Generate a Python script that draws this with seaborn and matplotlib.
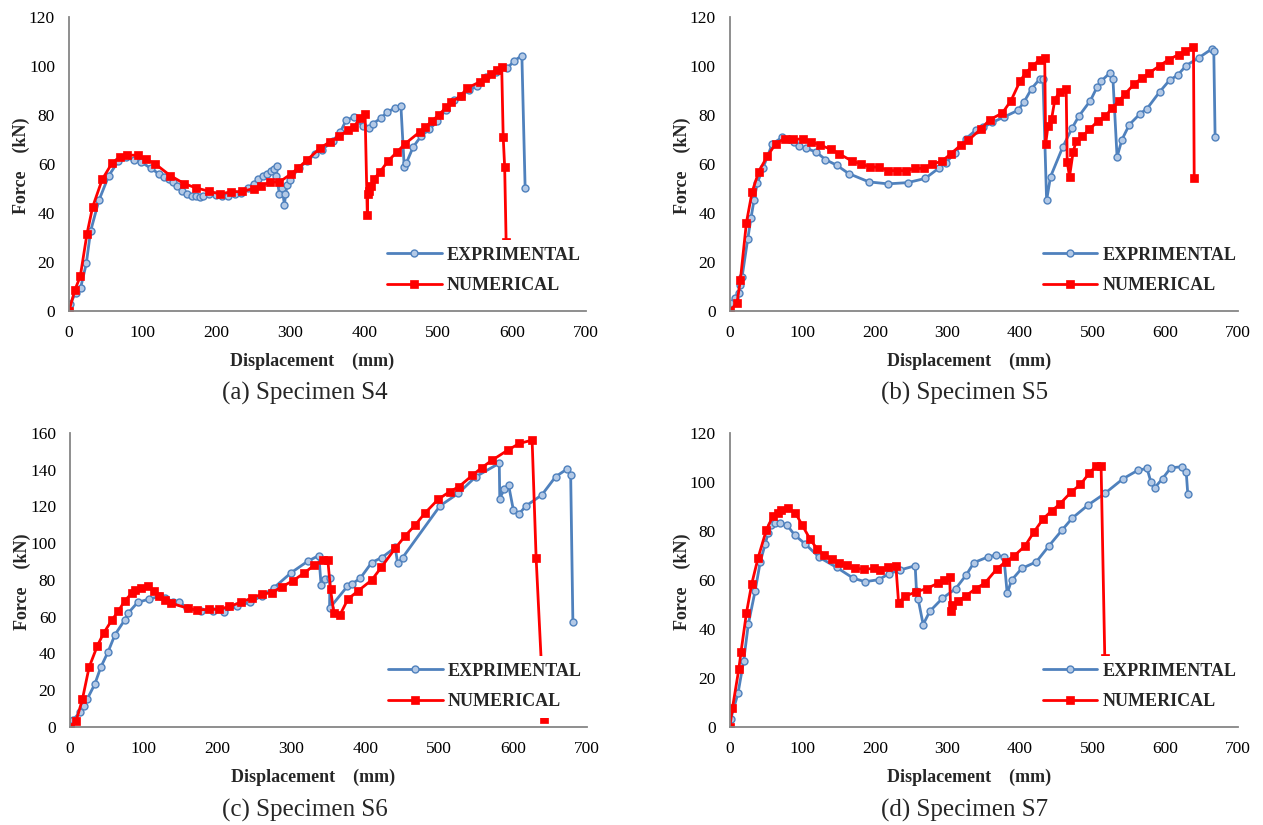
import numpy as np
import pandas as pd
import matplotlib.pyplot as plt
import seaborn as sns

# --- Specimen S4 ---
s4_exp_x = [0, 1.4, 9, 15.8, 23.5, 29.3, 40.6, 54, 66.8, 76.7, 88, 97, 110.5, 121.8, 128.6, 135.3, 140.7,
            146.6, 153.4, 160, 167, 172.3, 176.8, 181.3, 189.4, 198.5, 207.5, 215.6, 224.6, 232.3, 242.7,
            250.3, 256.2, 262.5, 267.5, 273, 277.4, 282, 281, 285, 288.7, 291.8, 293.2, 295.4, 299, 311.2,
            322.5, 333, 343, 357, 367.6, 375.3, 386.3, 397.6, 405.7, 412, 422.5, 431, 441.4, 449.5, 454,
            457, 466, 476.6, 487.8, 499, 510.4, 521.7, 530.7, 542, 553, 564.5, 578, 593.8, 603.3, 613.3, 617.7]
s4_exp_y = [0, 2.7, 7.5, 9.5, 19.4, 32.6, 45.2, 55.3, 61.1, 62.9, 61.5, 61, 58.3, 56, 54.8, 53.9, 52.6,
            51.2, 48.9, 47.8, 47.1, 46.9, 46.5, 47.1, 47.6, 47.3, 46.9, 46.9, 47.6, 48.2, 50.3,
            52, 53.7, 55, 56.1, 57, 58, 59.1, 55, 47.8, 50.3, 43.2, 47.6, 51.4, 53.3, 58.4,
            61.1, 64.1, 65.9, 69.3, 73.1, 77.9, 79.2, 75.4, 74.7, 76.5, 78.8, 81.1, 82.9, 83.6, 58.8,
            60.5, 66.9, 71.3, 74.1, 77.5, 82.2, 86.3, 87.6, 90.4, 91.7, 95.5, 97.4, 99.2, 102.2, 104.2, 50.3]
s4_num_x = [0, 8.1, 15.3, 24.4, 32, 45, 58.6, 69, 79, 93.4, 103.7, 117, 137, 156, 171.4, 189.4, 204, 219,
            234.5, 250, 260.7, 272, 284.6, 301, 310, 323, 340.6, 353, 366, 378, 386, 394, 401, 404, 404.4,
            405.7, 409, 413.4, 421, 432, 444.5, 455.3, 475, 482.4, 491.5, 501.4, 511, 518, 530.7, 539,
            556.4, 563.6, 571.3, 579, 586, 588, 590, 592]
s4_num_y = [0, 8.7, 14.1, 31.5, 42.4, 53.7, 60.5, 62.8, 63.6, 63.6, 62.1, 60, 55.3, 52, 50.3, 48.9, 47.8, 48.6,
            48.8, 50, 51, 52.7, 52.6, 56, 58.3, 61.8, 66.6, 69, 71.3, 73.9, 75.1, 78.8, 80.5, 39.1, 47.6,
            48.9, 51, 54, 56.7, 61.2, 65, 68.3, 73.1, 75, 77.5, 80.2, 83.2, 85.2, 87.9, 91,
            93.5, 95.1, 96.8, 98.2, 99.4, 71, 58.7, 28]

# --- Specimen S5 ---
s5_exp_x = [0, 2.7, 7.3, 12.4, 14.2, 17, 24.7, 29.3, 33.4, 38, 45.8, 58.6, 72.3, 81.5, 87.9, 96, 105.3, 119,
            131.9, 147.4, 163.9, 191.8, 218, 245, 269.2, 288.5, 297.6, 310.4, 325, 339.7, 349.4, 362, 378,
            397, 405.5, 416, 427.5, 431.6, 436.6, 442, 459, 471.8, 481, 497, 506, 511.7, 523.6, 528, 533.7,
            540.5, 550.7, 565.8, 575, 592.3, 606, 617, 629, 646, 664, 667, 668.8]
s5_exp_y = [0, 3.3, 5.3, 7.5, 10.6, 14, 29.2, 38, 45.2, 52.3, 58.4, 68.2, 70.9, 70.2, 68.9, 67.3, 66.4, 64.9,
            61.8, 59.5, 56.1, 52.7, 51.9, 52.4, 54.1, 58.4, 60.5, 64.5, 70.2, 74, 75, 77, 79.2,
            81.9, 85.3, 90.8, 94.8, 94.8, 45.2, 54.8, 67, 74.7, 79.5, 85.9, 91.3, 93.8, 97.1, 94.8, 62.9,
            70, 76.1, 80.6, 82.6, 89.4, 94.2, 96.2, 100.2, 103.3, 106.9, 106, 71]
s5_num_x = [0, 10, 14.7, 22.9, 30.7, 39.8, 51.7, 63.2, 75.5, 87, 100.7, 112.6, 124.5, 139.6, 151, 168, 180.4,
            193.2, 206, 218, 230.3, 242.7, 255, 267, 279.3, 292, 304.5, 319, 328.8, 346, 358.4, 375.7,
            387.6, 400, 407.8, 417, 427, 434, 435.3, 438.5, 443.5, 448, 454.5, 463.6, 465, 468.2, 473.2,
            477.4, 485.6, 495.7, 507, 517.7, 526.8, 536, 545, 557.5, 568, 578, 593, 604.7, 618.4, 627.6,
            639, 640]
s5_num_y = [0, 3.4, 12.8, 36, 48.5, 56.8, 63.2, 68.2, 70.4, 70.1, 70.2, 69, 67.7, 66, 64.1, 61.3, 60,
            58.8, 58.7, 57.3, 57.3, 57.3, 58.2, 58.2, 60, 61.1, 64.1, 67.9, 69.7, 74.3, 78.1, 80.8,
            85.9, 93.8, 97.2, 99.9, 102.6, 103.3, 68.2, 75.4, 78.4, 86.3, 89.4, 90.8, 60.9, 54.8, 65,
            69.3, 71.3, 74.1, 77.5, 79.5, 82.9, 85.6, 88.7, 92.7, 95.1, 97.2, 100.2, 102.6, 104.6, 106.3,
            107.7, 54.3]

# --- Specimen S6 ---
s6_exp_x = [0, 3.6, 13.6, 19.5, 23.6, 33.6, 41.7, 51.7, 60.8, 74.4, 78.9, 91.6, 107, 122.4, 129.3, 139.7,
            147.4, 158.7, 176.9, 194, 208.6, 226.8, 244, 260, 276.6, 299.3, 322, 337, 340, 345.6, 352,
            351.5, 375.5, 381.9, 393.2, 408.6, 422.3, 440.5, 443.7, 450.5, 501, 526, 549.5, 581.3, 582,
            588, 594, 600.4, 607.6, 617.6, 639, 657.6, 673.5, 678, 681]
s6_exp_y = [0, 3.6, 8.1, 11.2, 15.4, 23.3, 32.5, 41, 50.1, 58.4, 62, 67.8, 69.6, 71.1, 70.2, 68.2,
            68.2, 64.6, 62.9, 62.9, 62.7, 66, 67.8, 71.4, 75.9, 83.9, 90.2, 93.3, 77.4, 80.8, 81,
            64.6, 76.5, 77.8, 81, 89.5, 92.2, 97.7, 89, 92.2, 120.3, 127.2, 136.2, 143.5, 124.3,
            129.4, 131.5, 118.1, 115.8, 120.3, 126.3, 136.2, 140.5, 137.3, 57]
s6_num_x = [0, 8.2, 16.8, 25.9, 37.2, 45.8, 56.7, 65.3, 73.9, 83.4, 88.4, 96.1, 105.2, 113.4, 121, 129.3,
            137.4, 159.6, 172.3, 188.2, 201.4, 215.9, 231.3, 246.7, 259.4, 273, 287, 302.5, 317.5, 331,
            342.4, 349.2, 352.8, 357.4, 365.5, 376.4, 390, 408.7, 421.4, 440.5, 454, 467.7, 480.5, 498.6,
            514, 526.8, 545, 557.6, 571.3, 593, 608.6, 625.8, 631.2, 642]
s6_num_y = [0, 3.1, 15, 32.5, 44.3, 51.2, 58.2, 62.9, 68.5, 72.7, 74.7, 75.9, 76.5, 74.1, 71.1, 69.1,
            67.3, 64.6, 63.7, 64, 64, 65.6, 67.8, 70.3, 72.2, 73.1, 76.3, 79.7, 83.9, 88.1,
            90.6, 90.6, 75, 61.8, 60.9, 69.6, 74, 80, 86.8, 97.3, 104, 110, 116.3, 123.9,
            128, 130.8, 137, 141.1, 145.1, 150.7, 154.3, 156.1, 92.2, 4.2]

# --- Specimen S7 ---
s7_exp_x = [0, 1.4, 11.4, 19.2, 25.6, 34.8, 42.1, 49, 52.7, 57.2, 62.7, 69.6, 79.2, 89.3, 103.5, 123.6,
            147.4, 170.3, 186.4, 205, 219.8, 235, 255.5, 257.3, 259.6, 266.5, 275.6, 293, 311.4, 326,
            336.5, 355.8, 367.2, 377.7, 382.3, 388.3, 402.3, 422.4, 439.8, 458, 471.8, 493.8, 516.8,
            541.9, 562.5, 575, 580.4, 585.4, 596.4, 607.8, 623, 629, 631.2]
s7_exp_y = [0, 3.4, 13.8, 27.1, 42, 55.3, 67.5, 74.8, 79, 82.3, 83.1, 83.4, 82.3, 78.4, 74.8, 69.2,
            65.1, 60.7, 59.3, 60.1, 62.6, 64.1, 65.8, 55.6, 52.2, 41.8, 47.2, 52.5, 56.5, 62.1,
            67.1, 69.4, 70.2, 69.4, 54.5, 59.9, 64.7, 67.4, 73.9, 80.4, 85.2, 90.6, 95.3,
            101.3, 104.8, 105.5, 100, 97.6, 101.4, 105.8, 106.2, 104.1, 94.9]
s7_num_x = [0, 3.7, 12.4, 15.6, 22.9, 30.2, 38.9, 50.4, 59.5, 66.4, 71, 80.1, 90.2, 99.4, 110.8, 120,
            130.5, 141, 151, 161.6, 172.6, 185, 198.3, 207, 217.5, 229, 232.6, 241.8, 257.3, 271.5, 287,
            295.8, 303, 304.5, 306.8, 315, 326, 338.8, 351.2, 367.7, 380.3, 391.8, 406.9, 419.2, 432,
            443.5, 454.5, 470.5, 483.3, 495.7, 504.8, 511.7, 516.8]
s7_num_y = [0, 7.7, 23.5, 30.8, 46.4, 58.3, 68.9, 80.4, 86.1, 87.2, 88.5, 89.2, 87.5, 82.6, 76.6, 72.8,
            70.1, 68.7, 66.8, 66, 64.8, 64.4, 64.7, 64.1, 65.1, 65.5, 50.8, 53.4, 55.2, 56.5, 58.7,
            60.1, 61.3, 47.2, 49.8, 51.5, 53.6, 56.5, 58.6, 64.4, 67.5, 69.8, 73.9, 79.6, 85,
            88.2, 90.9, 95.9, 99, 103.7, 106.5, 106.5, 28]

captions = ['(a) Specimen S4', '(b) Specimen S5', '(c) Specimen S6', '(d) Specimen S7']
y_limits = [120, 120, 160, 120]

sns.set_style('white')
plt.rcParams['font.family'] = ['Liberation Serif', 'DejaVu Serif']

BLUE = '#4F81BD'
RED = '#FF0000'
GRAY = '#868686'

fig = plt.figure(figsize=(12.63, 8.25), dpi=100)

# позиции осей в долях фигуры
positions = [
    [0.0546, 0.6230, 0.4093, 0.3564],
    [0.5778, 0.6230, 0.4022, 0.3564],
    [0.0554, 0.1188, 0.4093, 0.3564],
    [0.5778, 0.1188, 0.4022, 0.3564],
]
caption_xy = [(0.2415, 0.5236), (0.764, 0.5236), (0.2415, 0.0182), (0.764, 0.0182)]

data = [
    (s4_exp_x, s4_exp_y, s4_num_x, s4_num_y),
    (s5_exp_x, s5_exp_y, s5_num_x, s5_num_y),
    (s6_exp_x, s6_exp_y, s6_num_x, s6_num_y),
    (s7_exp_x, s7_exp_y, s7_num_x, s7_num_y),
]

for i in range(4):
    ax = fig.add_axes(positions[i])
    ex, ey, nx, ny = data[i]
    df_exp = pd.DataFrame({'x': ex, 'y': ey})
    df_num = pd.DataFrame({'x': nx, 'y': ny})

    sns.lineplot(data=df_exp, x='x', y='y', ax=ax, sort=False, estimator=None,
                 color=BLUE, linewidth=2, marker='o', markersize=5,
                 markerfacecolor='#B3C9E6', markeredgecolor=BLUE, markeredgewidth=1,
                 label='EXPRIMENTAL')
    sns.lineplot(data=df_num, x='x', y='y', ax=ax, sort=False, estimator=None,
                 color=RED, linewidth=2, marker='s', markersize=5.5,
                 markerfacecolor=RED, markeredgecolor=RED, markeredgewidth=0.5,
                 label='NUMERICAL')

    ax.set_xlim(0, 700)
    ax.set_ylim(0, y_limits[i])
    ax.set_xticks(np.arange(0, 701, 100))
    ax.set_yticks(np.arange(0, y_limits[i] + 1, 20))

    for side in ['top', 'right']:
        ax.spines[side].set_visible(False)
    for side in ['left', 'bottom']:
        ax.spines[side].set_color(GRAY)
        ax.spines[side].set_linewidth(1.3)
    ax.tick_params(axis='both', direction='out', length=4, width=1.2, color=GRAY,
                   labelsize=12.5, labelcolor='black')
    ax.tick_params(axis='x', pad=6)
    ax.tick_params(axis='y', pad=6)

    ax.set_xlabel('Displacement    (mm)', fontsize=13, fontweight='bold')
    ax.set_ylabel('Force    (kN)', fontsize=13, fontweight='bold')
    ax.xaxis.set_label_coords(0.471, -0.143)
    ax.yaxis.set_label_coords(-0.076, 0.493)

    leg = ax.legend(loc='upper left', bbox_to_anchor=(0.602, 0.243), borderaxespad=0,
                    frameon=True, facecolor='white', edgecolor='none', framealpha=1,
                    handlelength=3.0, handletextpad=0.3, labelspacing=0.75, borderpad=0.4,
                    prop={'weight': 'bold', 'size': 13})
    for t in leg.get_texts():
        t.set_fontweight('bold')

    fig.text(caption_xy[i][0], caption_xy[i][1], captions[i], ha='center', va='center', fontsize=18)

fig.savefig('out.png', dpi=100)
